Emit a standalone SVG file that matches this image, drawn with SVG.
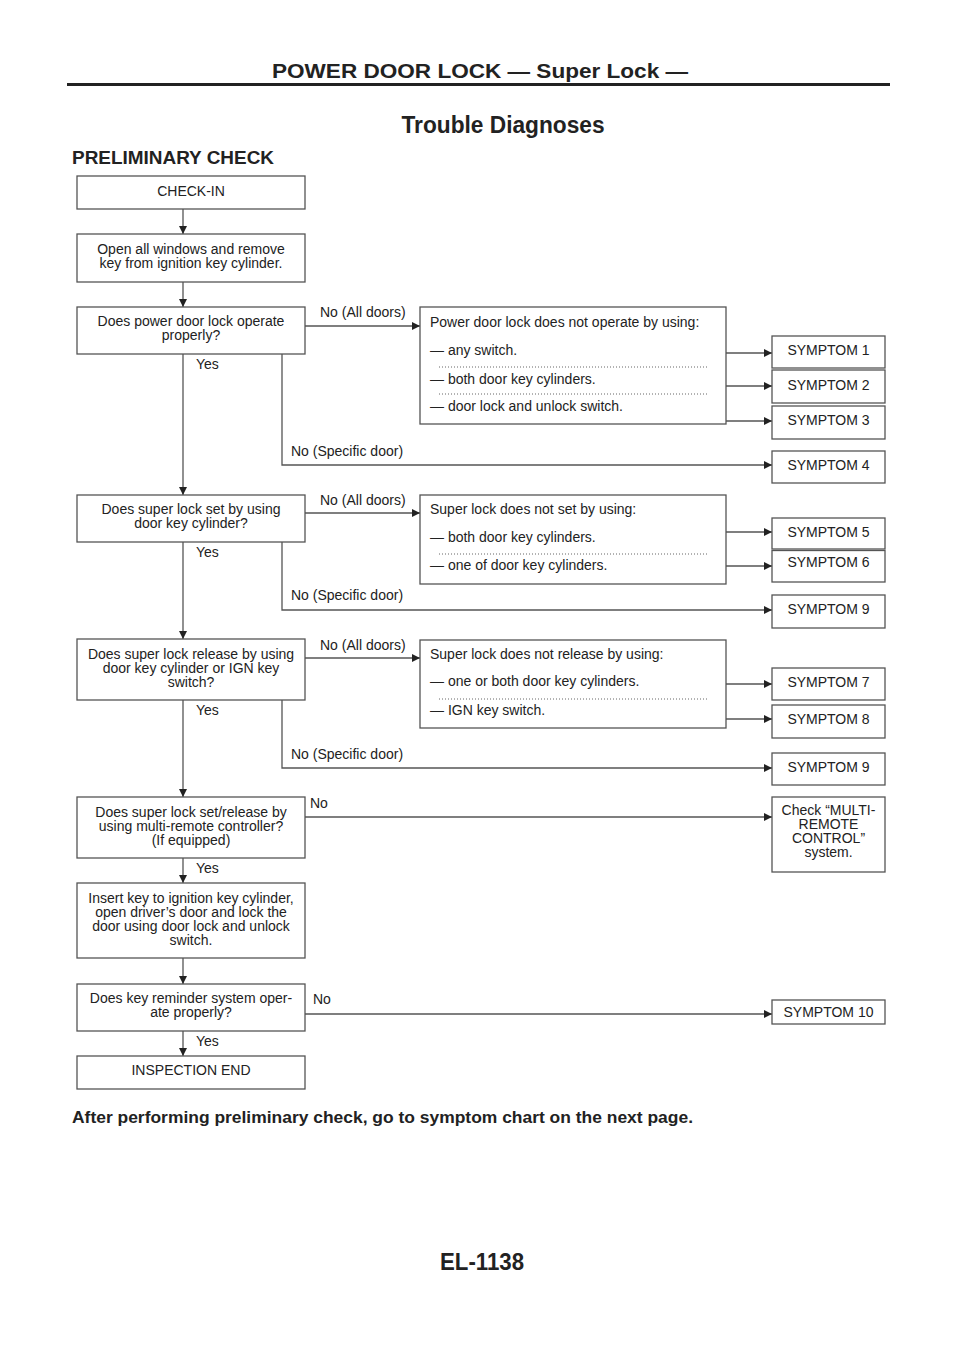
<svg xmlns="http://www.w3.org/2000/svg" width="960" height="1358" viewBox="0 0 960 1358">
<style>
.bx{fill:#fff;stroke:#555;stroke-width:1.3}
.t{font-family:"Liberation Sans",Arial,sans-serif;font-size:14px;fill:#222}
.c{text-anchor:middle}
.ln{fill:none;stroke:#555;stroke-width:1.3}
.dot{fill:none;stroke:#666;stroke-width:1;stroke-dasharray:1 2}
.h{font-family:"Liberation Sans",Arial,sans-serif;font-weight:bold;fill:#222}
</style>
<defs>
<marker id="ah" viewBox="0 0 8 8" refX="8" refY="4" markerWidth="8" markerHeight="8" markerUnits="userSpaceOnUse" orient="auto">
<path d="M0,0 L8,4 L0,8 Z" fill="#222"/>
</marker>
</defs>
<rect width="960" height="1358" fill="#fff"/>
<g id="header">
<text class="h c" x="480" y="78" font-size="21" textLength="416" lengthAdjust="spacingAndGlyphs">POWER DOOR LOCK — Super Lock —</text>
<rect x="67" y="83" width="823" height="3" fill="#222"/>
<text class="h c" x="503" y="133" font-size="23" textLength="203" lengthAdjust="spacingAndGlyphs">Trouble Diagnoses</text>
<text class="h" x="72" y="164" font-size="18" textLength="202" lengthAdjust="spacingAndGlyphs">PRELIMINARY CHECK</text>
</g>
<g id="connectors">
<line class="ln" x1="183" y1="209" x2="183" y2="234" marker-end="url(#ah)"/>
<line class="ln" x1="183" y1="282" x2="183" y2="307" marker-end="url(#ah)"/>
<line class="ln" x1="183" y1="354" x2="183" y2="495" marker-end="url(#ah)"/>
<line class="ln" x1="183" y1="542" x2="183" y2="639" marker-end="url(#ah)"/>
<line class="ln" x1="183" y1="700" x2="183" y2="797" marker-end="url(#ah)"/>
<line class="ln" x1="183" y1="858" x2="183" y2="883" marker-end="url(#ah)"/>
<line class="ln" x1="183" y1="958" x2="183" y2="984" marker-end="url(#ah)"/>
<line class="ln" x1="183" y1="1031" x2="183" y2="1056" marker-end="url(#ah)"/>
<line class="ln" x1="305" y1="326" x2="420" y2="326" marker-end="url(#ah)"/>
<polyline class="ln" points="282,354 282,465 772,465" marker-end="url(#ah)"/>
<line class="ln" x1="726" y1="353" x2="772" y2="353" marker-end="url(#ah)"/>
<line class="ln" x1="726" y1="386" x2="772" y2="386" marker-end="url(#ah)"/>
<line class="ln" x1="726" y1="421" x2="772" y2="421" marker-end="url(#ah)"/>
<line class="ln" x1="305" y1="513" x2="420" y2="513" marker-end="url(#ah)"/>
<polyline class="ln" points="282,542 282,610 772,610" marker-end="url(#ah)"/>
<line class="ln" x1="726" y1="532" x2="772" y2="532" marker-end="url(#ah)"/>
<line class="ln" x1="726" y1="566" x2="772" y2="566" marker-end="url(#ah)"/>
<line class="ln" x1="305" y1="658" x2="420" y2="658" marker-end="url(#ah)"/>
<polyline class="ln" points="282,700 282,768 772,768" marker-end="url(#ah)"/>
<line class="ln" x1="726" y1="684" x2="772" y2="684" marker-end="url(#ah)"/>
<line class="ln" x1="726" y1="719" x2="772" y2="719" marker-end="url(#ah)"/>
<line class="ln" x1="305" y1="817" x2="772" y2="817" marker-end="url(#ah)"/>
<line class="ln" x1="305" y1="1014" x2="772" y2="1014" marker-end="url(#ah)"/>
<text class="t" x="196" y="369">Yes</text>
<text class="t" x="196" y="557">Yes</text>
<text class="t" x="196" y="715">Yes</text>
<text class="t" x="196" y="873">Yes</text>
<text class="t" x="196" y="1046">Yes</text>
<text class="t" x="320" y="317">No (All doors)</text>
<text class="t" x="320" y="505">No (All doors)</text>
<text class="t" x="320" y="650">No (All doors)</text>
<text class="t" x="291" y="456">No (Specific door)</text>
<text class="t" x="291" y="600">No (Specific door)</text>
<text class="t" x="291" y="759">No (Specific door)</text>
<text class="t" x="310" y="808">No</text>
<text class="t" x="313" y="1004">No</text>
</g>
<g id="checkin"><rect class="bx" x="77" y="176" width="228" height="33"/><text class="t c" x="191" y="196">CHECK-IN</text></g>
<g id="open"><rect class="bx" x="77" y="234" width="228" height="48"/><text class="t c" x="191" y="254">Open all windows and remove</text><text class="t c" x="191" y="268">key from ignition key cylinder.</text></g>
<g id="q1"><rect class="bx" x="77" y="307" width="228" height="47"/><text class="t c" x="191" y="326">Does power door lock operate</text><text class="t c" x="191" y="340">properly?</text></g>
<g id="p1"><rect class="bx" x="420" y="307" width="306" height="117"/>
<text class="t" x="430" y="327">Power door lock does not operate by using:</text>
<text class="t" x="430" y="355">— any switch.</text>
<line class="dot" x1="439" y1="367" x2="707" y2="367"/>
<text class="t" x="430" y="384">— both door key cylinders.</text>
<line class="dot" x1="439" y1="394" x2="707" y2="394"/>
<text class="t" x="430" y="411">— door lock and unlock switch.</text></g>
<g id="s1"><rect class="bx" x="772" y="336" width="113" height="32"/><text class="t c" x="828.5" y="355">SYMPTOM 1</text></g>
<g id="s2"><rect class="bx" x="772" y="370" width="113" height="33"/><text class="t c" x="828.5" y="390">SYMPTOM 2</text></g>
<g id="s3"><rect class="bx" x="772" y="406" width="113" height="33"/><text class="t c" x="828.5" y="425">SYMPTOM 3</text></g>
<g id="s4"><rect class="bx" x="772" y="451" width="113" height="32"/><text class="t c" x="828.5" y="470">SYMPTOM 4</text></g>
<g id="q2"><rect class="bx" x="77" y="495" width="228" height="47"/><text class="t c" x="191" y="514">Does super lock set by using</text><text class="t c" x="191" y="528">door key cylinder?</text></g>
<g id="p2"><rect class="bx" x="420" y="495" width="306" height="89"/>
<text class="t" x="430" y="514">Super lock does not set by using:</text>
<text class="t" x="430" y="542">— both door key cylinders.</text>
<line class="dot" x1="439" y1="554" x2="707" y2="554"/>
<text class="t" x="430" y="570">— one of door key cylinders.</text></g>
<g id="s5"><rect class="bx" x="772" y="518" width="113" height="31"/><text class="t c" x="828.5" y="537">SYMPTOM 5</text></g>
<g id="s6"><rect class="bx" x="772" y="550.5" width="113" height="31.5"/><text class="t c" x="828.5" y="567">SYMPTOM 6</text></g>
<g id="s9a"><rect class="bx" x="772" y="595" width="113" height="33"/><text class="t c" x="828.5" y="614">SYMPTOM 9</text></g>
<g id="q3"><rect class="bx" x="77" y="639" width="228" height="61"/><text class="t c" x="191" y="659">Does super lock release by using</text><text class="t c" x="191" y="673">door key cylinder or IGN key</text><text class="t c" x="191" y="687">switch?</text></g>
<g id="p3"><rect class="bx" x="420" y="640" width="306" height="88"/>
<text class="t" x="430" y="659">Super lock does not release by using:</text>
<text class="t" x="430" y="686">— one or both door key cylinders.</text>
<line class="dot" x1="439" y1="699" x2="707" y2="699"/>
<text class="t" x="430" y="715">— IGN key switch.</text></g>
<g id="s7"><rect class="bx" x="772" y="668" width="113" height="32"/><text class="t c" x="828.5" y="687">SYMPTOM 7</text></g>
<g id="s8"><rect class="bx" x="772" y="705" width="113" height="33"/><text class="t c" x="828.5" y="724">SYMPTOM 8</text></g>
<g id="s9b"><rect class="bx" x="772" y="753" width="113" height="32"/><text class="t c" x="828.5" y="772">SYMPTOM 9</text></g>
<g id="q4"><rect class="bx" x="77" y="797" width="228" height="61"/><text class="t c" x="191" y="817">Does super lock set/release by</text><text class="t c" x="191" y="831">using multi-remote controller?</text><text class="t c" x="191" y="845">(If equipped)</text></g>
<g id="multi"><rect class="bx" x="772" y="797" width="113" height="75"/><text class="t c" x="828.5" y="815">Check “MULTI-</text><text class="t c" x="828.5" y="829">REMOTE</text><text class="t c" x="828.5" y="843">CONTROL”</text><text class="t c" x="828.5" y="857">system.</text></g>
<g id="insert"><rect class="bx" x="77" y="883" width="228" height="75"/><text class="t c" x="191" y="903">Insert key to ignition key cylinder,</text><text class="t c" x="191" y="917">open driver’s door and lock the</text><text class="t c" x="191" y="931">door using door lock and unlock</text><text class="t c" x="191" y="945">switch.</text></g>
<g id="q5"><rect class="bx" x="77" y="984" width="228" height="47"/><text class="t c" x="191" y="1003">Does key reminder system oper-</text><text class="t c" x="191" y="1017">ate properly?</text></g>
<g id="s10"><rect class="bx" x="772" y="1000" width="113" height="24"/><text class="t c" x="828.5" y="1017">SYMPTOM 10</text></g>
<g id="end"><rect class="bx" x="77" y="1056" width="228" height="33"/><text class="t c" x="191" y="1075">INSPECTION END</text></g>
<g id="footer">
<text class="h" x="72" y="1123" font-size="17" textLength="621" lengthAdjust="spacingAndGlyphs">After performing preliminary check, go to symptom chart on the next page.</text>
<text class="h c" x="482" y="1270" font-size="24" textLength="84" lengthAdjust="spacingAndGlyphs">EL-1138</text>
</g>
</svg>
